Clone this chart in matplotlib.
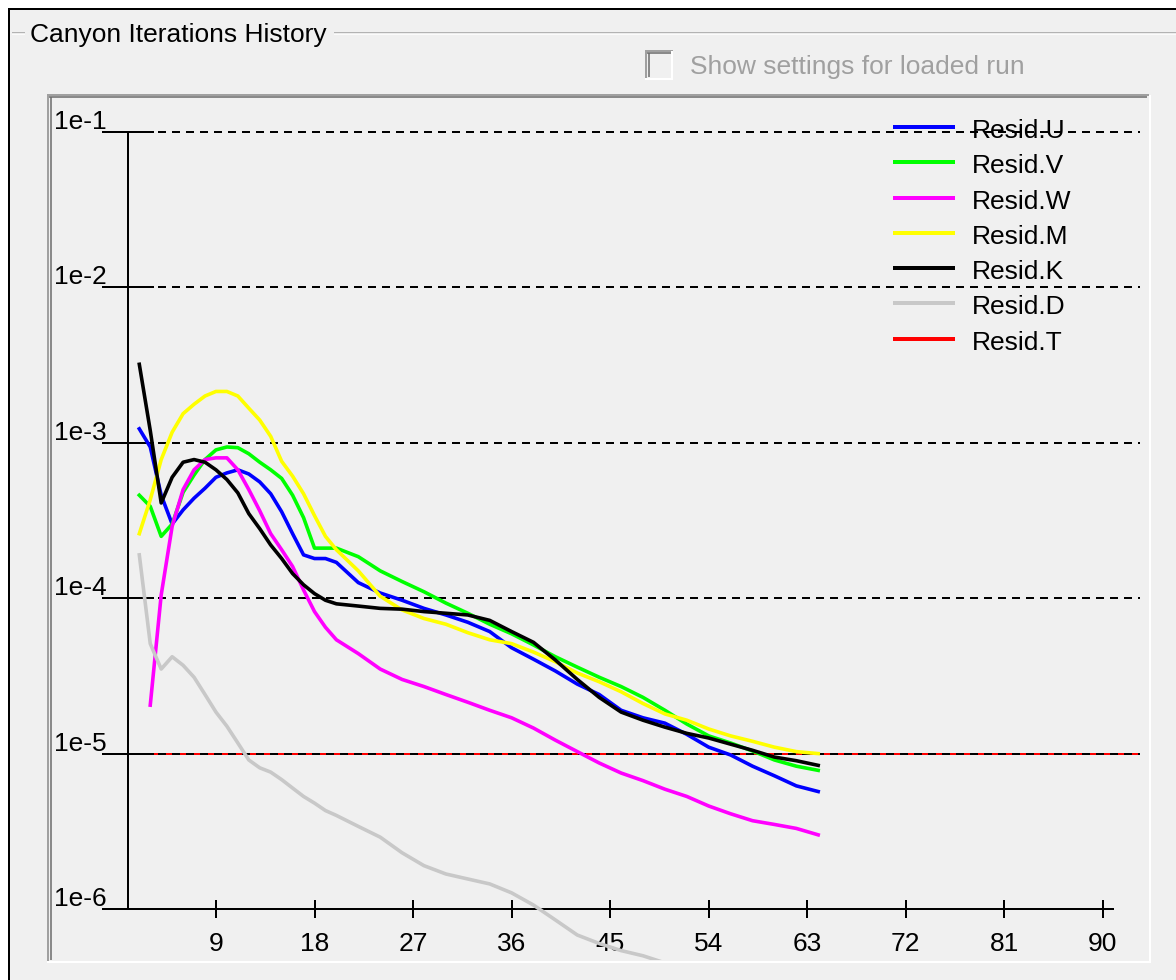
import matplotlib
matplotlib.use("Agg")
import matplotlib.pyplot as plt
import matplotlib.transforms as mtransforms
from matplotlib.lines import Line2D
from matplotlib.patches import Rectangle

plt.rcParams['font.family'] = ['Liberation Sans', 'DejaVu Sans']
plt.rcParams['lines.scale_dashes'] = False

# residual history, one value per iteration listed in iters
iters = [2, 3, 4, 5, 6, 7, 8, 9, 10, 11, 12, 13, 14, 15, 16, 17, 18, 19, 20,
         22, 24, 26, 28, 30, 32, 34, 36, 38, 40, 42, 44, 46, 48, 50, 52, 54,
         56, 58, 60, 62, 64]

resid_u = [1.23e-3, 9.4e-4, 4.6e-4, 3.0e-4, 3.7e-4, 4.4e-4, 5.1e-4, 6.0e-4,
           6.4e-4, 6.7e-4, 6.3e-4, 5.6e-4, 4.7e-4, 3.6e-4, 2.6e-4, 1.9e-4,
           1.8e-4, 1.8e-4, 1.7e-4, 1.26e-4, 1.08e-4, 9.7e-5, 8.6e-5, 7.8e-5,
           7.0e-5, 6.1e-5, 4.8e-5, 4.05e-5, 3.4e-5, 2.8e-5, 2.4e-5, 1.9e-5,
           1.7e-5, 1.57e-5, 1.33e-5, 1.1e-5, 9.8e-6, 8.3e-6, 7.2e-6, 6.2e-6,
           5.7e-6]

resid_v = [4.6e-4, 3.9e-4, 2.5e-4, 3.0e-4, 4.8e-4, 6.2e-4, 7.8e-4, 9.0e-4,
           9.4e-4, 9.3e-4, 8.5e-4, 7.5e-4, 6.7e-4, 5.9e-4, 4.6e-4, 3.3e-4,
           2.1e-4, 2.1e-4, 2.1e-4, 1.85e-4, 1.5e-4, 1.28e-4, 1.1e-4, 9.3e-5,
           8.0e-5, 6.8e-5, 5.9e-5, 5.0e-5, 4.2e-5, 3.6e-5, 3.1e-5, 2.7e-5,
           2.3e-5, 1.9e-5, 1.55e-5, 1.3e-5, 1.17e-5, 1.04e-5, 9.1e-6, 8.3e-6,
           7.8e-6]

# W has no value at the first iteration
resid_w = [float('nan'), 2.05e-5, 1.05e-4, 2.9e-4, 5.0e-4, 6.7e-4, 7.8e-4,
           8.0e-4, 8.0e-4, 6.7e-4, 5.0e-4, 3.65e-4, 2.6e-4, 2.05e-4, 1.6e-4,
           1.13e-4, 8.2e-5, 6.5e-5, 5.4e-5, 4.4e-5, 3.5e-5, 3.0e-5, 2.7e-5,
           2.4e-5, 2.14e-5, 1.9e-5, 1.7e-5, 1.46e-5, 1.22e-5, 1.03e-5, 8.7e-6,
           7.5e-6, 6.7e-6, 5.9e-6, 5.3e-6, 4.6e-6, 4.1e-6, 3.7e-6, 3.5e-6,
           3.3e-6, 3.0e-6]

resid_m = [2.6e-4, 4.3e-4, 7.8e-4, 1.17e-3, 1.54e-3, 1.77e-3, 2.0e-3, 2.14e-3,
           2.14e-3, 2.0e-3, 1.67e-3, 1.4e-3, 1.1e-3, 7.6e-4, 6.1e-4, 4.7e-4,
           3.4e-4, 2.5e-4, 2.05e-4, 1.5e-4, 1.03e-4, 8.4e-5, 7.4e-5, 6.8e-5,
           6.0e-5, 5.4e-5, 5.1e-5, 4.5e-5, 3.9e-5, 3.3e-5, 2.9e-5, 2.5e-5,
           2.1e-5, 1.8e-5, 1.64e-5, 1.44e-5, 1.3e-5, 1.2e-5, 1.1e-5, 1.03e-5,
           1.0e-5]

resid_k = [3.2e-3, 1.2e-3, 4.1e-4, 6.0e-4, 7.5e-4, 7.8e-4, 7.5e-4, 6.7e-4,
           5.8e-4, 4.76e-4, 3.5e-4, 2.8e-4, 2.2e-4, 1.8e-4, 1.44e-4, 1.22e-4,
           1.07e-4, 9.7e-5, 9.2e-5, 8.9e-5, 8.6e-5, 8.5e-5, 8.2e-5, 8.0e-5,
           7.8e-5, 7.2e-5, 6.1e-5, 5.2e-5, 4.0e-5, 3.0e-5, 2.3e-5, 1.85e-5,
           1.64e-5, 1.48e-5, 1.35e-5, 1.26e-5, 1.15e-5, 1.05e-5, 9.5e-6, 9.0e-6,
           8.4e-6]

# D runs out of the bottom of the plot, so only its first points are kept
resid_d = [1.9e-4, 5.1e-5, 3.5e-5, 4.2e-5, 3.7e-5, 3.1e-5, 2.4e-5, 1.85e-5,
           1.5e-5, 1.17e-5, 9.1e-6, 8.1e-6, 7.6e-6, 6.8e-6, 6.0e-6, 5.3e-6,
           4.8e-6, 4.3e-6, 4.0e-6, 3.4e-6, 2.9e-6, 2.3e-6, 1.9e-6, 1.68e-6,
           1.56e-6, 1.45e-6, 1.27e-6, 1.06e-6, 8.5e-7, 6.8e-7, 6.0e-7, 5.4e-7,
           5.0e-7, 4.5e-7, 4.2e-7]

resid_t = 1e-5

names = ['Resid.U', 'Resid.V', 'Resid.W', 'Resid.M', 'Resid.K', 'Resid.D', 'Resid.T']
colors = ['#0000ff', '#00ff00', '#ff00ff', '#ffff00', '#000000', '#c8c8c8', '#ff0000']

decades = [1e-1, 1e-2, 1e-3, 1e-4, 1e-5, 1e-6]
decade_labels = ['1e-1', '1e-2', '1e-3', '1e-4', '1e-5', '1e-6']
xticks = [9, 18, 27, 36, 45, 54, 63, 72, 81, 90]

W, H = 1176, 980
BG = '#f0f0f0'
PX = 0.72  # one pixel in points at 100 dpi
FS = 19
LW = 3.6   # curve width in pixels

# pixel <-> data mapping of the plot
X0, XS = 117.4, 10.95      # x pixel of iteration 0, pixels per iteration
Y1, DEC = 132.0, 155.4     # y pixel of 1e-1, pixels per decade


def fx(px):
    return px / W


def fy(py):
    return 1 - py / H


def xd(px):
    return (px - X0) / XS


def yd(py):
    return 10 ** (-1 - (py - Y1) / DEC)


fig = plt.figure(figsize=(W / 100, H / 100), dpi=100)
fig.patch.set_facecolor(BG)


def seg(x0, y0, x1, y1, color, lw=1.0, z=1):
    fig.add_artist(Line2D([fx(x0), fx(x1)], [fy(y0), fy(y1)], color=color,
                          lw=lw * PX, solid_capstyle='butt', zorder=z))


# window frame
fig.add_artist(Rectangle((0, fy(8)), 1, 1 - fy(8), color='white', lw=0, zorder=0))
fig.add_artist(Rectangle((0, 0), fx(8), 1, color='white', lw=0, zorder=0))
seg(8, 9, W, 9, '#000000', 2)
seg(9, 9, 9, H, '#000000', 2)

# group box
seg(12, 33, 25, 33, '#a0a0a0', 1.5)
seg(12, 34.5, 25, 34.5, 'white', 1.5)
seg(334, 33, W, 33, '#a0a0a0', 1.5)
seg(334, 34.5, W, 34.5, 'white', 1.5)
fig.text(fx(30), fy(42), 'Canyon Iterations History', fontsize=FS,
         color='#000000', ha='left', va='baseline')

# disabled checkbox
fig.add_artist(Rectangle((fx(645), fy(79)), fx(673) - fx(645), fy(51) - fy(79),
                         facecolor=BG, edgecolor='none', zorder=1))
seg(645, 51, 673, 51, '#a0a0a0', 2)
seg(646, 51, 646, 79, '#a0a0a0', 2)
seg(647, 53.5, 671, 53.5, '#696969', 1.5)
seg(648.5, 53, 648.5, 77, '#696969', 1.5)
seg(645, 79, 673, 79, 'white', 2)
seg(672, 51, 672, 79, 'white', 2)
fig.text(fx(690), fy(74), 'Show settings for loaded run', fontsize=FS,
         color='#a0a0a0', ha='left', va='baseline')

# sunken chart panel
seg(47, 95, 1149, 95, '#a0a0a0', 2)
seg(48, 95, 48, 962, '#a0a0a0', 2)
seg(49, 97, 1147, 97, '#696969', 1.5)
seg(50.5, 97, 50.5, 960, '#696969', 1.5)
seg(47, 962, 1151, 962, 'white', 2)
seg(1150, 95, 1150, 962, 'white', 2)

# plot area
ax = fig.add_axes([fx(52), fy(960), fx(1147) - fx(52), fy(98) - fy(960)])
ax.set_facecolor('none')
ax.set_yscale('log')
ax.set_xlim(xd(52), xd(1147))
ax.set_ylim(yd(960), yd(98))
ax.minorticks_off()

for s in ('top', 'right'):
    ax.spines[s].set_visible(False)
ax.spines['left'].set_position(('data', 1))
ax.spines['left'].set_bounds(1e-6, 1e-1)
ax.spines['bottom'].set_position(('data', 1e-6))
ax.spines['bottom'].set_bounds(xd(106), xd(1113))
for s in ('left', 'bottom'):
    ax.spines[s].set_linewidth(2 * PX)
    ax.spines[s].set_color('#000000')

ax.set_yticks(decades)
ax.set_yticklabels([])
ax.set_xticks(xticks)
ax.set_xticklabels([])
ax.tick_params(axis='y', which='major', direction='inout', length=52 * PX,
               width=2 * PX, color='#000000')
ax.tick_params(axis='x', which='major', direction='inout', length=18 * PX,
               width=2 * PX, color='#000000')
ax.tick_params(which='minor', length=0)

# tick labels
ylab_tr = mtransforms.offset_copy(ax.transData, fig=fig, x=0, y=3, units='dots')
for v, lab in zip(decades, decade_labels):
    ax.text(xd(107), v, lab, transform=ylab_tr, fontsize=FS, ha='right',
            va='baseline', clip_on=False)
xlab_tr = mtransforms.offset_copy(ax.transData, fig=fig, x=0, y=-42, units='dots')
for t in xticks:
    ax.text(t, 1e-6, str(t), transform=xlab_tr, fontsize=FS, ha='center',
            va='baseline', clip_on=False)

# target level and reference lines
ax.hlines(resid_t, xd(130), xd(1140), colors=colors[6], lw=2 * PX, zorder=1)
ax.hlines(decades[:5], xd(158), xd(1140), colors='#000000',
          linestyles=(0, (8 * PX, 6 * PX)), lw=2 * PX, zorder=2)

# residual curves
series = [resid_u, resid_v, resid_w, resid_m, resid_k]
for vals, c in zip(series, colors[:5]):
    ax.plot(iters, vals, color=c, lw=LW * PX, zorder=3, solid_joinstyle='round')
ax.plot(iters[:len(resid_d)], resid_d, color=colors[5], lw=LW * PX, zorder=3,
        solid_joinstyle='round')

# legend
for k, (name, c) in enumerate(zip(names, colors)):
    y = 127 + 35.3 * k
    seg(893, y, 955, y, c, 4, z=4)
    fig.text(fx(972), fy(y + 11), name, fontsize=FS, color='#000000',
             ha='left', va='baseline', zorder=4)

fig.savefig('out.png', dpi=100, facecolor=fig.get_facecolor())
